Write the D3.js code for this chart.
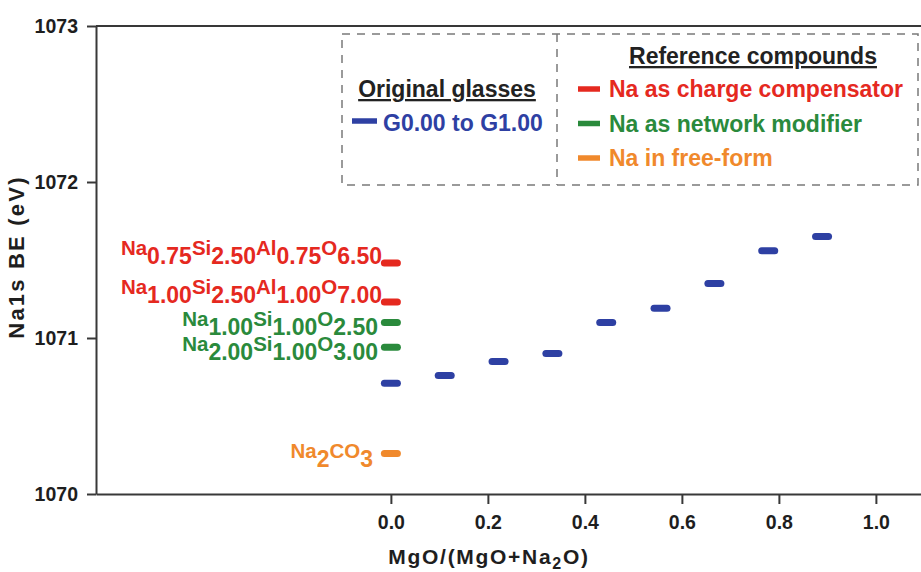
<!DOCTYPE html>
<html>
<head>
  <meta charset="utf-8">
  <title>Na1s BE vs MgO/(MgO+Na2O)</title>
  <style type="text/css">
    body{
      margin:0;
      background:#fff;
    }
    text{
      font-family: "Liberation Sans", Arial, sans-serif;
      font-weight: bold;
    }
  </style>
</head>
<body>
<div id="chart"></div>

<script src="https://d3js.org/d3.v7.min.js"></script>
<script type="text/javascript">
  // original glasses G0.00 ... G1.00
  var glassRatio = [0, 0.111, 0.222, 0.333, 0.444, 0.556, 0.667, 0.778, 0.889];
  var glassBE = [1070.71, 1070.76, 1070.85, 1070.90, 1071.10, 1071.19, 1071.35, 1071.56, 1071.65];

  // reference compounds, all drawn at x = 0
  var refFormula = [
    [["Na","0.75"],["Si","2.50"],["Al","0.75"],["O","6.50"]],
    [["Na","1.00"],["Si","2.50"],["Al","1.00"],["O","7.00"]],
    [["Na","1.00"],["Si","1.00"],["O","2.50"]],
    [["Na","2.00"],["Si","1.00"],["O","3.00"]],
    [["Na","2"],["CO","3"]]
  ];
  var refBE = [1071.48, 1071.23, 1071.10, 1070.94, 1070.26];
  var refType = ["charge", "charge", "modifier", "modifier", "free"];

  var refLegend = ["Na as charge compensator", "Na as network modifier", "Na in free-form"];
  var xTicks = [0, 0.2, 0.4, 0.6, 0.8, 1.0];
  var yTicks = [1070, 1071, 1072, 1073];

  var blue = "#2e40a3";
  var typeColor = {charge: "#e5291f", modifier: "#2a8a3c", free: "#f0892c"};

  var W = 921, H = 572;
  var svg = d3.select("#chart").append("svg")
      .attr("width", W)
      .attr("height", H);

  var x = d3.scaleLinear().domain([-0.608, 1.093]).range([96, 921]);
  var y = d3.scaleLinear().domain([1070, 1073]).range([494, 26]);
  var axisCol = "#383838";

  // top frame
  svg.append("line")
      .attr("x1", x.range()[0]).attr("x2", x.range()[1])
      .attr("y1", y(1073)).attr("y2", y(1073))
      .style("stroke", axisCol).style("stroke-width", 2);

  var xAxis = svg.append("g")
      .attr("transform", "translate(0," + y(1070) + ")")
      .call(d3.axisBottom(x).tickValues(xTicks).tickFormat(d3.format(".1f"))
        .tickSize(10).tickSizeOuter(0).tickPadding(11));

  var yAxis = svg.append("g")
      .attr("transform", "translate(" + x.range()[0] + ",0)")
      .call(d3.axisLeft(y).tickValues(yTicks).tickFormat(d3.format("d"))
        .tickSize(9).tickSizeOuter(0).tickPadding(9));

  [xAxis, yAxis].forEach(function(g){
    g.select(".domain").style("stroke", axisCol).style("stroke-width", 2);
    g.selectAll(".tick line").style("stroke", axisCol).style("stroke-width", 2);
    g.selectAll(".tick text")
      .style("font-size", "19.5px")
      .style("font-family", "'Liberation Sans', Arial, sans-serif")
      .style("font-weight", "bold")
      .style("fill", "#1e1e1e");
  });

  // axis titles
  var xt = svg.append("text")
      .attr("x", 489).attr("y", 564)
      .style("text-anchor", "middle")
      .style("font-size", "21px")
      .style("letter-spacing", "1.7px")
      .style("fill", "#1e1e1e");
  xt.append("tspan").text("MgO/(MgO+Na");
  xt.append("tspan").attr("dy", 5).style("font-size", "16px").text("2");
  xt.append("tspan").attr("dy", -5).text("O)");

  svg.append("text")
      .attr("transform", "translate(24,257) rotate(-90)")
      .style("text-anchor", "middle")
      .style("font-size", "22px")
      .style("letter-spacing", "2.2px")
      .style("fill", "#1e1e1e")
      .text("Na1s BE (eV)");

  // markers
  function bar(g, cx, cy, col){
    g.append("rect")
      .attr("x", cx - 10).attr("y", cy - 3.5)
      .attr("width", 20).attr("height", 7)
      .attr("rx", 3.5)
      .style("fill", col);
  }

  var marks = svg.append("g");
  glassRatio.forEach(function(r, i){
    bar(marks, x(r), y(glassBE[i]), blue);
  });
  refBE.forEach(function(v, i){
    bar(marks, x(0), y(v), typeColor[refType[i]]);
  });

  // formula labels next to the reference markers
  var labelRight = {charge: 382, modifier: 378, free: 373};
  var labelDrop = {charge: 1, modifier: 13, free: 14};
  refFormula.forEach(function(parts, i){
    var t = refType[i];
    var txt = svg.append("text")
        .attr("x", labelRight[t])
        .attr("y", y(refBE[i]) + labelDrop[t])
        .style("text-anchor", "end")
        .style("fill", typeColor[t]);
    parts.forEach(function(p){
      txt.append("tspan").attr("dy", -9).style("font-size", "20.5px").text(p[0]);
      txt.append("tspan").attr("dy", 9).style("font-size", "23px").text(p[1]);
    });
  });

  // legend
  var lg = svg.append("g");
  lg.append("rect")
      .attr("x", 342).attr("y", 34)
      .attr("width", 576).attr("height", 151)
      .style("fill", "none")
      .style("stroke", "#7a7a7a")
      .style("stroke-width", 1.5)
      .style("stroke-dasharray", "8,7");
  lg.append("line")
      .attr("x1", 557).attr("x2", 557)
      .attr("y1", 34).attr("y2", 185)
      .style("stroke", "#7a7a7a")
      .style("stroke-width", 1.5)
      .style("stroke-dasharray", "8,7");

  lg.append("text")
      .attr("x", 447).attr("y", 97)
      .style("text-anchor", "middle")
      .style("font-size", "23px")
      .style("text-decoration", "underline")
      .style("fill", "#222")
      .text("Original glasses");
  lg.append("line")
      .attr("x1", 352).attr("x2", 377)
      .attr("y1", 121).attr("y2", 121)
      .style("stroke", blue).style("stroke-width", 5.5);
  lg.append("text")
      .attr("x", 383).attr("y", 131)
      .style("font-size", "23px")
      .style("fill", blue)
      .text("G0.00 to G1.00");

  lg.append("text")
      .attr("x", 753).attr("y", 64)
      .style("text-anchor", "middle")
      .style("font-size", "23px")
      .style("text-decoration", "underline")
      .style("fill", "#222")
      .text("Reference compounds");

  ["charge", "modifier", "free"].forEach(function(t, i){
    var yy = 97 + i * 34.5;
    lg.append("line")
        .attr("x1", 578).attr("x2", 600)
        .attr("y1", yy - 8).attr("y2", yy - 8)
        .style("stroke", typeColor[t]).style("stroke-width", 5.5);
    lg.append("text")
        .attr("x", 609).attr("y", yy)
        .style("font-size", "23px")
        .style("fill", typeColor[t])
        .text(refLegend[i]);
  });
</script>
</body>
</html>
